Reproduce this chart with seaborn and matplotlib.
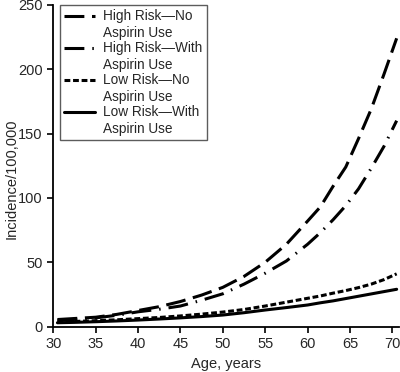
import numpy as np
import pandas as pd
import matplotlib
matplotlib.use("Agg")
import matplotlib.pyplot as plt
import seaborn as sns

# edades (años) y tasas (incidencia por 100.000)
edades = [30.5, 32.5, 35, 37.5, 40, 42.5, 45, 47.5, 50, 52.5, 55, 57.5,
          60, 61.5, 63, 64.5, 66, 67.5, 69, 70.5]
alto_sin_aspirina = [5.5, 6.3, 7.3, 9.5, 12.5, 15.5, 19.5, 24.5, 30.5, 39, 50, 64,
                     82, 93, 109, 124, 146, 169, 196, 224]
alto_con_aspirina = [4.8, 5.6, 6.8, 8.8, 11.5, 13.5, 16, 20.5, 25.5, 33, 41.5, 51,
                     64, 73, 83, 94, 107, 123, 140, 160]
bajo_sin_aspirina = [3.6, 4.0, 4.6, 5.3, 6.2, 7.1, 8.3, 9.7, 11.3, 13.3, 16, 19,
                     22, 23.8, 26, 28, 30.3, 33, 36.5, 41]
bajo_con_aspirina = [3.0, 3.3, 3.8, 4.4, 5.1, 5.9, 6.8, 7.8, 9, 10.8, 12.9, 14.8,
                     16.8, 18.5, 20, 21.8, 23.6, 25.4, 27.2, 29]

etiquetas = [
    "High Risk\u2014No\nAspirin Use",
    "High Risk\u2014With\nAspirin Use",
    "Low Risk\u2014No\nAspirin Use",
    "Low Risk\u2014With\nAspirin Use",
]
series = [alto_sin_aspirina, alto_con_aspirina, bajo_sin_aspirina, bajo_con_aspirina]
estilos = [(6.5, 2.5), (6.5, 2.6, 0.5, 2.6), (1.9, 0.9), ""]

sns.set_style("ticks")
plt.rcParams['font.family'] = ['Liberation Sans', 'DejaVu Sans']

fig = plt.figure(figsize=(4.0, 3.72), dpi=100)
ax = fig.add_axes([0.133, 0.122, 0.865, 0.865])

for etiqueta, valores, dash in zip(etiquetas, series, estilos):
    df = pd.DataFrame({"edad": edades, "incidencia": valores})
    if dash:
        sns.lineplot(data=df, x="edad", y="incidencia", ax=ax, color="black",
                     linewidth=2.2, dashes=dash, label=etiqueta)
    else:
        sns.lineplot(data=df, x="edad", y="incidencia", ax=ax, color="black",
                     linewidth=2.2, label=etiqueta)

ax.set_xlim(30, 70.8)
ax.set_ylim(0, 250)
ax.set_xticks(range(30, 71, 5))
ax.set_yticks(range(0, 251, 50))
ax.set_xlabel("Age, years", fontsize=10.5)
ax.set_ylabel("Incidence/100,000", fontsize=10.5)
ax.yaxis.set_label_coords(-0.1, 0.46)
ax.tick_params(labelsize=10.5, length=4, width=1.2, color="black")
for lado in ["left", "bottom"]:
    ax.spines[lado].set_linewidth(1.3)
    ax.spines[lado].set_color("black")
sns.despine(ax=ax)

leg = ax.legend(loc="upper left", bbox_to_anchor=(0.019, 1.0), fontsize=9.8,
                frameon=True, fancybox=False, handlelength=2.3, handletextpad=0.55,
                labelspacing=0.06, borderpad=0.32, borderaxespad=0.0)
leg.get_frame().set_edgecolor("#333333")
leg.get_frame().set_linewidth(1.0)
for txt in leg.get_texts():
    txt.set_linespacing(1.28)
# la muestra de línea va a la altura del primer renglón
for linea in leg.get_lines():
    linea.set_ydata(np.asarray(linea.get_ydata()) + 6.5)

fig.savefig("out.png", dpi=100)
